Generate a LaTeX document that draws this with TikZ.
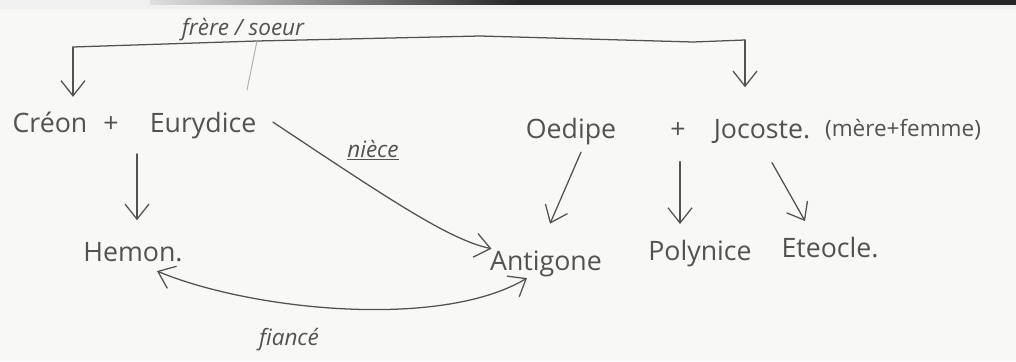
\documentclass[tikz,border=0pt]{standalone}
\usepackage{fontspec}
\setmainfont{Open Sans}
\usetikzlibrary{arrows.meta,calc}
\definecolor{ink}{HTML}{525252}
\definecolor{paper}{HTML}{F8F8F6}
\begin{document}
\begin{tikzpicture}[x=0.025cm,y=-0.025cm,
  txt/.style={font=\fontsize{19}{22}\selectfont, text=ink, inner sep=1pt, anchor=base},
  small/.style={font=\fontsize{16}{19}\selectfont, text=ink, inner sep=1pt, anchor=base},
  lbl/.style={font=\fontsize{16}{19}\selectfont\itshape, text=ink, inner sep=1pt, anchor=base},
  tip/.style={},
  arr/.style={draw=ink, line width=0.9pt, line cap=round, -{Straight Barb[length=3.8mm,width=6mm]}},
  dblarr/.style={draw=ink, line width=0.9pt, line cap=round, {Straight Barb[length=3.8mm,width=6mm]}-{Straight Barb[length=3.8mm,width=6mm]}},
  ln/.style={draw=ink, line width=0.9pt, line cap=round},
  faint/.style={draw=ink!45, line width=0.7pt, line cap=round}]
\useasboundingbox (0,0) rectangle (1016,361);
\fill[paper] (0,0) rectangle (1016,361);
\fill[gray!12] (0,0) rectangle (1016,9);
\shade[left color=gray!25, right color=black!85] (150,0) rectangle (520,5);
\fill[black!85] (520,0) rectangle (1016,5);

% labels
\node[lbl] (frere) at (243,36) {frère / soeur};
\node[lbl] (niece) at (373,157) {\underline{nièce}};
\node[lbl] (fiance) at (289,345) {fiancé};

% people
\node[txt] (creon) at (50,132) {Créon};
\node[txt] (plus1) at (111,132) {+};
\node[txt] (eurydice) at (203,132) {Eurydice};
\node[txt] (oedipe) at (571,138) {Oedipe};
\node[txt] (plus2) at (678,138) {+};
\node[txt] (jocoste) at (762,138) {Jocoste.};
\node[small] (merefemme) at (903,136) {(mère+femme)};
\node[txt] (hemon) at (133,261) {Hemon.};
\node[txt] (antigone) at (546,270) {Antigone};
\node[txt] (polynice) at (700,260) {Polynice};
\node[txt] (eteocle) at (830,257) {Eteocle.};

% frère / soeur bracket
\coordinate (bl) at (73,47);
\coordinate (bm) at (257,41);
\coordinate (bc) at (480,36);
\coordinate (bd) at (693,42);
\coordinate (br) at (745,40);
\draw[ln] (bl) -- (bm) -- (bc) -- (bd) -- (br);
\draw[arr] (bl) -- ($(creon.north)+(23,-13)$);
\draw[arr] (br) -- ($(jocoste.north)+(-17,-30)$);
\draw[faint] (bm) -- ($(eurydice.north)+(44,-20)$);

% parents -> children
\draw[arr] ($(creon.south)+(87,20)$) -- ($(hemon.north)+(4,-20)$);
\draw[arr] ($(oedipe.south)+(10,6)$) -- ($(antigone.north)+(4,-25)$);
\draw[arr] ($(plus2.south)+(2,22)$) -- ($(polynice.north)+(-20,-14)$);
\draw[arr] ($(jocoste.south)+(10,18)$) -- ($(eteocle.north)+(-25,-14)$);

% nièce
\draw[arr] ($(eurydice.east)+(15,-3)$) .. controls (390,200) and (450,240) .. ($(antigone.north west)+(3,0)$);

% fiancé
\draw[dblarr] ($(hemon.south)+(24,8)$) .. controls (250,310) and (440,330) .. ($(antigone.south)+(-19,0)$);
\end{tikzpicture}
\end{document}
